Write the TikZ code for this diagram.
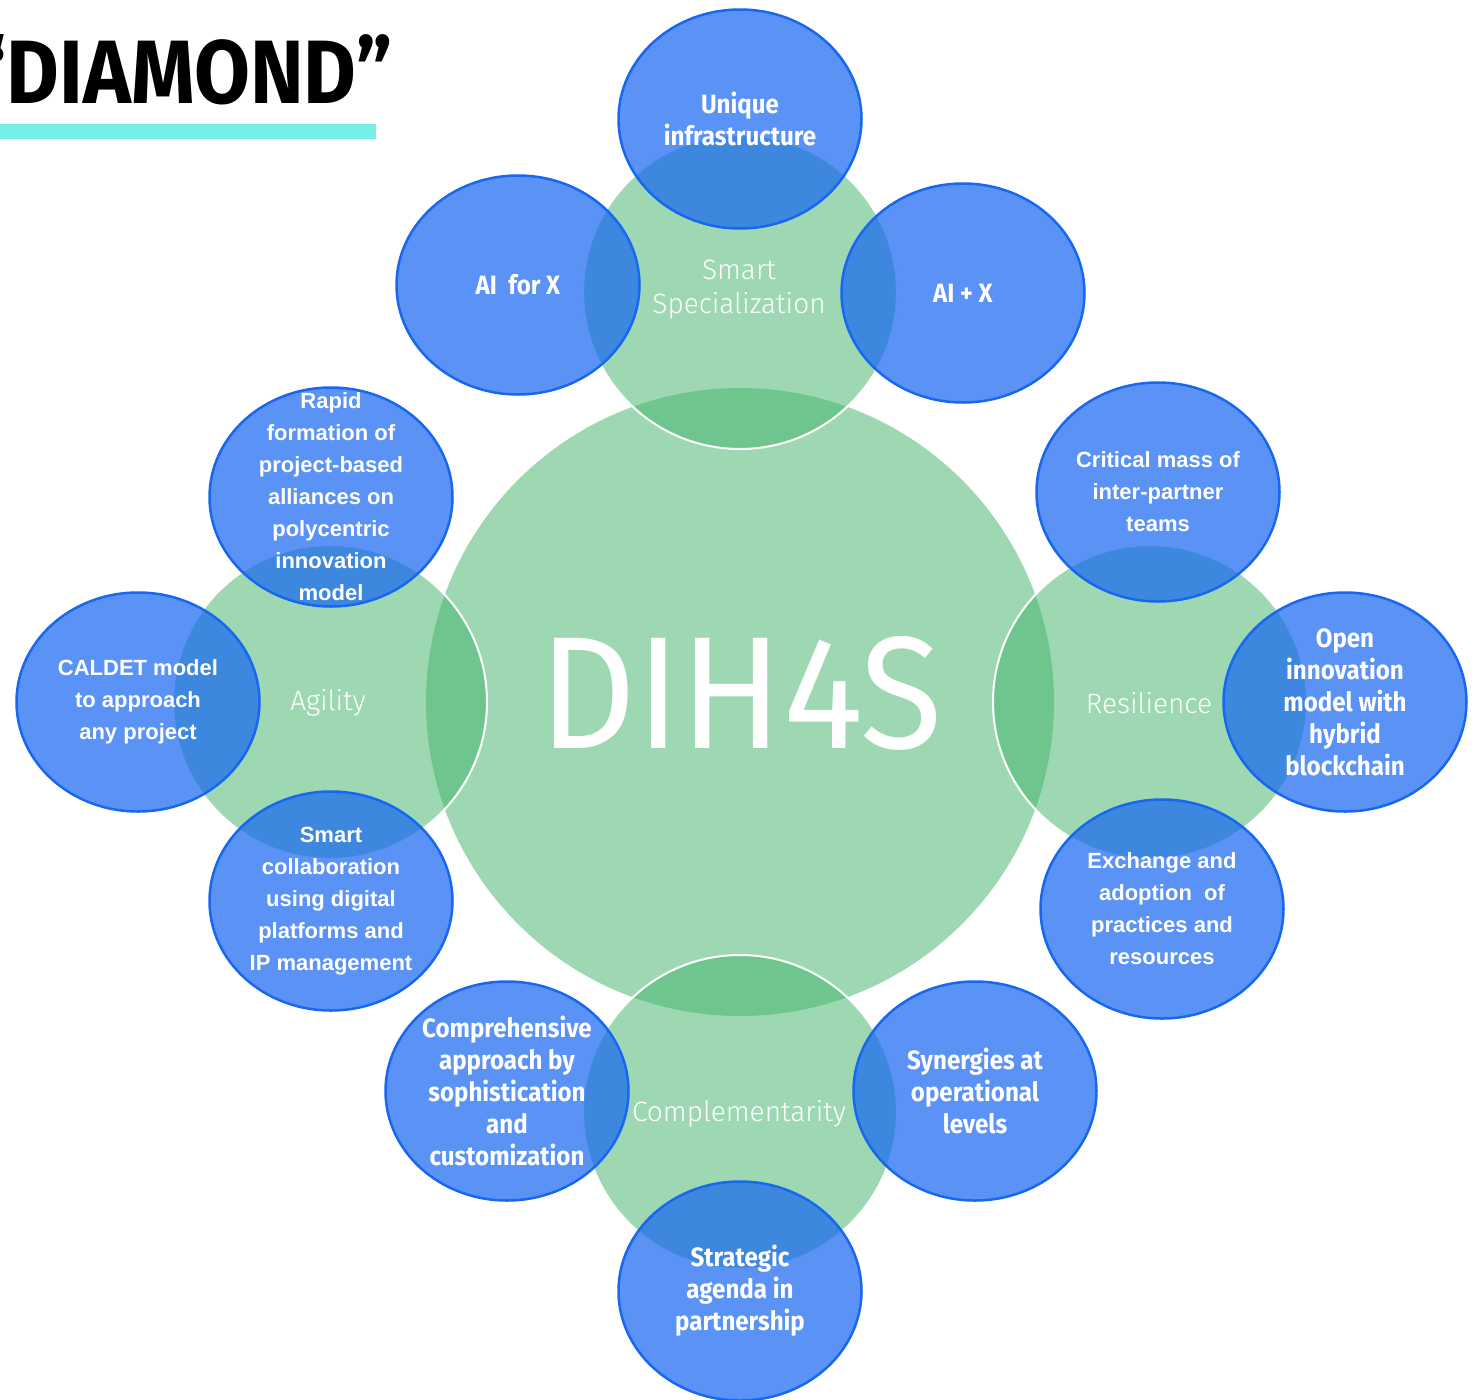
\documentclass[tikz,border=0pt]{standalone}
\usepackage{fontspec}
\setmainfont{Liberation Sans}
\newfontfamily\condfont[FakeStretch=0.91]{Fira Sans}
\newfontfamily\headfont[FakeStretch=0.9]{Fira Sans}
\newfontfamily\thinfont{Fira Sans Light}
\newfontfamily\hubfont[FakeStretch=0.94]{Fira Sans}
\usetikzlibrary{shapes}

\definecolor{hubgreen}{RGB}{67,181,109}
\definecolor{bubblue}{RGB}{23,103,241}
\definecolor{barcyan}{RGB}{118,240,230}

\tikzset{
  hub/.style={circle, minimum size=628pt, inner sep=0pt, fill=hubgreen, fill opacity=0.52},
  pillar/.style={circle, minimum size=314pt, inner sep=0pt, fill=hubgreen, fill opacity=0.52, draw=white, line width=2pt},
  bubble/.style={ellipse, minimum width=243pt, minimum height=219pt, inner sep=0pt, fill=bubblue, fill opacity=0.71, draw=bubblue, line width=2.5pt},
  armtext/.style={text=white, align=center, inner sep=0pt, font=\bfseries\fontsize{22}{32}\selectfont},
  condtext/.style={text=white, align=center, inner sep=0pt, font=\condfont\bfseries\fontsize{26.5}{32}\selectfont},
  pillartext/.style={text=white, align=center, inner sep=0pt, font=\thinfont\fontsize{28}{34}\selectfont},
}

\begin{document}
\begin{tikzpicture}[x=1pt,y=-1pt]
  \useasboundingbox (0,0) rectangle (1478,1400);

  % heading
  \fill[barcyan] (0,124) rectangle (376,139);
  \node[anchor=base east, inner sep=0pt, font=\headfont\bfseries\fontsize{90}{90}\selectfont] (title) at (393,103) {“DIAMOND”};

  % green core and the four pillars
  \node[hub] (hub) at (740,702) {};
  \foreach \nm/\x/\y in {smart/740/292, agile/330/702, resil/1150/702, compl/740/1112}
    \node[pillar] (\nm) at (\x,\y) {};

  \node[pillartext] (smart-txt) at (739,290) {Smart\\Specialization};
  \node[pillartext] (agile-txt) at (328,703) {Agility};
  \node[pillartext] (resil-txt) at (1149,703) {Resilience};
  \node[pillartext] (compl-txt) at (739,1114) {Complementarity};
  \node[text=white, inner sep=0pt, font=\hubfont\fontsize{160}{160}\selectfont] (dih) at (741,693) {DIH4S};

  % blue bubbles
  \foreach \nm/\x/\y/\sty/\txt in {
      infra/740/119/condtext/{Unique\\infrastructure},
      aifor/518/285/condtext/{AI\ \ for X},
      aiplus/963/293/condtext/{AI + X},
      rapid/331/497/armtext/{Rapid\\formation of\\project-based\\alliances on\\polycentric\\innovation\\model},
      caldet/138/702/armtext/{CALDET model\\to approach\\any project},
      collab/331/901/armtext/{Smart\\collaboration\\using digital\\platforms and\\IP management},
      crit/1158/492/armtext/{Critical mass of\\inter-partner\\teams},
      openinn/1345/702/condtext/{Open\\innovation\\model with\\hybrid\\blockchain},
      exch/1162/909/armtext/{Exchange and\\adoption\ \ of\\practices and\\resources},
      compr/507/1091/condtext/{Comprehensive\\approach by\\sophistication\\and\\customization},
      syner/975/1091/condtext/{Synergies at\\operational\\levels},
      strat/740/1291/condtext/{Strategic\\agenda in\\partnership}} {
    \node[bubble] (\nm) at (\x,\y) {};
    \node[\sty] (\nm-txt) at (\nm) {\txt};
  }
\end{tikzpicture}
\end{document}
